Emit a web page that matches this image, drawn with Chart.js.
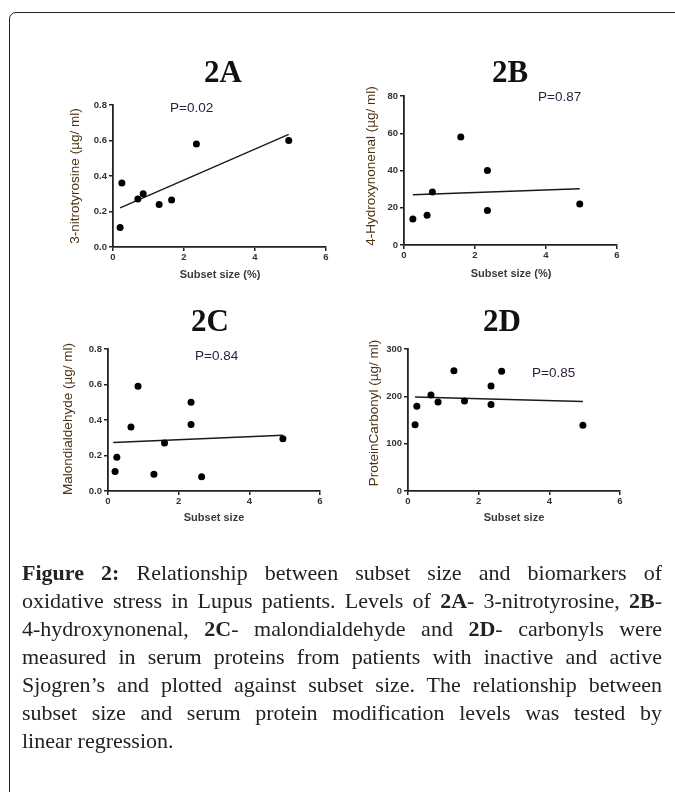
<!doctype html>
<html lang="en">

<head>
    <meta charset="utf-8">
    <title>Figure 2 - subset size vs oxidative stress</title>
    <style>
        * {
            margin: 0;
            padding: 0;
        }

        body {
            width: 675px;
            height: 792px;
            overflow: hidden;
            background: #fff;
            position: relative;
        }

        .frame {
            position: absolute;
            left: 9px;
            top: 12px;
            width: 720px;
            height: 900px;
            border: 1.5px solid #222;
            border-radius: 7px;
        }

        canvas {
            position: absolute;
            left: 0;
            top: 0;
        }

        .caption {
            position: absolute;
            left: 22px;
            top: 559px;
            width: 640px;
            font-family: 'Liberation Serif', serif;
            font-size: 22px;
            line-height: 28px;
            color: #222;
        }

        .caption div {
            text-align: justify;
            text-align-last: justify;
            white-space: nowrap;
        }

        .caption div.last {
            text-align-last: left;
        }
    </style>
</head>

<body>
    <div class="frame"></div>
    <canvas id="chartA" width="675" height="792"></canvas>
    <canvas id="chartB" width="675" height="792"></canvas>
    <canvas id="chartC" width="675" height="792"></canvas>
    <canvas id="chartD" width="675" height="792"></canvas>
    <div class="caption">
        <div><b>Figure 2:</b> Relationship between subset size and biomarkers of</div>
        <div>oxidative stress in Lupus patients. Levels of <b>2A</b>- 3-nitrotyrosine, <b>2B</b>-</div>
        <div>4-hydroxynonenal, <b>2C</b>- malondialdehyde and <b>2D</b>- carbonyls were</div>
        <div>measured in serum proteins from patients with inactive and active</div>
        <div>Sjogren’s and plotted against subset size. The relationship between</div>
        <div>subset size and serum protein modification levels was tested by</div>
        <div class="last">linear regression.</div>
    </div>

    <script src="https://cdn.jsdelivr.net/npm/chart.js/dist/chart.umd.min.js"></script>
    <script>
        // data
        const subsetA = [0.2, 0.25, 0.7, 0.85, 1.3, 1.65, 2.35, 4.95];
        const nitroA = [0.11, 0.36, 0.27, 0.30, 0.24, 0.265, 0.58, 0.60];
        const fitXA = [0.2, 4.95];
        const fitYA = [0.22, 0.635];

        const subsetB = [0.25, 0.65, 0.8, 1.6, 2.35, 2.35, 4.95];
        const hneB = [14, 16, 28.5, 58, 40, 18.5, 22];
        const fitXB = [0.25, 4.95];
        const fitYB = [27, 30.2];

        const subsetC = [0.2, 0.25, 0.65, 0.85, 1.3, 1.6, 2.35, 2.35, 2.65, 4.95];
        const mdaC = [0.11, 0.19, 0.36, 0.59, 0.095, 0.27, 0.5, 0.375, 0.08, 0.295];
        const fitXC = [0.15, 4.95];
        const fitYC = [0.273, 0.314];

        const subsetD = [0.2, 0.25, 0.65, 0.85, 1.3, 1.6, 2.35, 2.35, 2.65, 4.95];
        const carbD = [140, 179, 203, 188, 254, 190, 222, 183, 253, 139];
        const fitXD = [0.2, 4.95];
        const fitYD = [198.5, 189];

        const xMax = 6, xStep = 2;
        const yMaxA = 0.8, yStepA = 0.2;
        const yMaxB = 80, yStepB = 20;
        const yMaxC = 0.8, yStepC = 0.2;
        const yMaxD = 300, yStepD = 100;

        const toPoints = (xs, ys) => xs.map((x, i) => ({ x: x, y: ys[i] }));

        // text overlay: panel letter, p value, axis titles
        const panelText = {
            id: 'panelText',
            afterDraw(chart, args, o) {
                const { ctx } = chart;
                ctx.save();
                ctx.textAlign = 'center';
                ctx.textBaseline = 'alphabetic';
                ctx.fillStyle = '#111';
                ctx.font = 'bold 31px "Liberation Serif", serif';
                ctx.fillText(o.title, o.titleX, o.titleY);

                ctx.textAlign = 'left';
                ctx.textBaseline = 'middle';
                ctx.fillStyle = '#2a1a38';
                ctx.font = '13.5px "Liberation Sans", Arial, sans-serif';
                ctx.fillText(o.p, o.pX, o.pY);

                ctx.textAlign = 'center';
                ctx.fillStyle = '#3a3a3a';
                ctx.font = 'bold 11px "Liberation Sans", Arial, sans-serif';
                ctx.fillText(o.xTitle, o.xTitleX, o.xTitleY);

                ctx.translate(o.yTitleX, o.yTitleY);
                ctx.rotate(-Math.PI / 2);
                ctx.fillStyle = '#4b3210';
                ctx.font = '13.5px "Liberation Sans", Arial, sans-serif';
                ctx.fillText(o.yTitle, 0, 0);
                ctx.restore();
            }
        };

        const tickFont = { family: '"Liberation Sans", Arial, sans-serif', size: 9.5, weight: 'bold' };

        function makePanel(id, xs, ys, fx, fy, yMax, yStep, digits, area, text) {
            const config = {
                type: 'scatter',
                data: {
                    datasets: [{
                        data: toPoints(xs, ys),
                        backgroundColor: '#000',
                        borderWidth: 0,
                        pointRadius: 3.5
                    }, {
                        data: toPoints(fx, fy),
                        showLine: true,
                        borderColor: '#1a1a1a',
                        borderWidth: 1.4,
                        pointRadius: 0
                    }]
                },
                options: {
                    responsive: false,
                    animation: false,
                    layout: {
                        padding: {
                            left: 0,
                            top: area.t,
                            right: 675 - area.r,
                            bottom: 792 - area.b - 30
                        }
                    },
                    plugins: {
                        legend: { display: false },
                        tooltip: { enabled: false },
                        panelText: text
                    },
                    scales: {
                        x: {
                            type: 'linear',
                            min: 0,
                            max: xMax,
                            afterFit(s) { s.height = 30; },
                            grid: { drawOnChartArea: false, color: '#222', tickLength: 4, lineWidth: 1.5 },
                            border: { color: '#222', width: 1.8 },
                            ticks: { stepSize: xStep, font: tickFont, color: '#333', padding: 1, maxRotation: 0 }
                        },
                        y: {
                            min: 0,
                            max: yMax,
                            afterFit(s) { s.width = area.l; },
                            grid: { drawOnChartArea: false, color: '#222', tickLength: 4, lineWidth: 1.5 },
                            border: { color: '#222', width: 1.8 },
                            ticks: {
                                stepSize: yStep, font: tickFont, color: '#333', padding: 2,
                                callback: v => Number(v).toFixed(digits)
                            }
                        }
                    }
                },
                plugins: [panelText]
            };
            return new Chart(document.getElementById(id), config);
        }

        makePanel('chartA', subsetA, nitroA, fitXA, fitYA, yMaxA, yStepA, 1,
            { l: 113, r: 326, t: 105, b: 247 },
            { title: '2A', titleX: 223, titleY: 82, p: 'P=0.02', pX: 170, pY: 108,
              xTitle: 'Subset size (%)', xTitleX: 220, xTitleY: 275,
              yTitle: '3-nitrotyrosine (µg/ ml)', yTitleX: 75, yTitleY: 176 });

        makePanel('chartB', subsetB, hneB, fitXB, fitYB, yMaxB, yStepB, 0,
            { l: 404, r: 617, t: 96, b: 245 },
            { title: '2B', titleX: 510, titleY: 82, p: 'P=0.87', pX: 538, pY: 97,
              xTitle: 'Subset size (%)', xTitleX: 511, xTitleY: 274,
              yTitle: '4-Hydroxynonenal (µg/ ml)', yTitleX: 371, yTitleY: 166 });

        makePanel('chartC', subsetC, mdaC, fitXC, fitYC, yMaxC, yStepC, 1,
            { l: 108, r: 320, t: 349, b: 491 },
            { title: '2C', titleX: 210, titleY: 331, p: 'P=0.84', pX: 195, pY: 356,
              xTitle: 'Subset size', xTitleX: 214, xTitleY: 518,
              yTitle: 'Malondialdehyde (µg/ ml)', yTitleX: 68, yTitleY: 419 });

        makePanel('chartD', subsetD, carbD, fitXD, fitYD, yMaxD, yStepD, 0,
            { l: 408, r: 620, t: 349, b: 491 },
            { title: '2D', titleX: 502, titleY: 331, p: 'P=0.85', pX: 532, pY: 373,
              xTitle: 'Subset size', xTitleX: 514, xTitleY: 518,
              yTitle: 'ProteinCarbonyl (µg/ ml)', yTitleX: 374, yTitleY: 413 });
    </script>
</body>

</html>
